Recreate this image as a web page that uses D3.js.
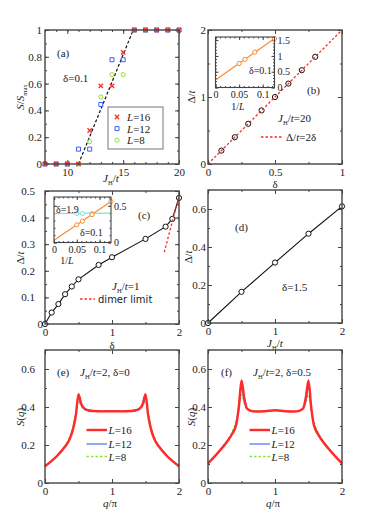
<!DOCTYPE html>
<html>
<head>
<meta charset="utf-8">
<script src="https://cdn.jsdelivr.net/npm/d3@7"></script>
<style>
  body { margin: 0; background: #fff; }
  svg { display: block; }
  text { font-family: "Liberation Serif", "Times New Roman", Times, serif; fill: #222; }
</style>
</head>
<body>
<svg id="fig" width="372" height="526"></svg>
<script>
// ---- data ----
// (a) S/Smax vs J_H/t
var jhA = [8, 9, 10, 11, 12, 13, 14, 15, 16, 17, 18, 19, 20];
var sA16 = [0, 0, 0, 0, 0.25, 0.583, 0.583, 0.833, 1, 1, 1, 1, 1];
var sA12 = [0, 0, 0, 0.111, 0.111, 0.444, 0.778, 0.778, 1, 1, 1, 1, 1];
var sA8 = [0, 0, 0, 0, 0.167, 0.5, 0.667, 0.667, 1, 1, 1, 1, 1];
var fitAx = [11, 15.9];
var fitAy = [0, 1];

// (b) gap vs delta, J_H/t = 20
var deltaB = [0.1, 0.2, 0.3, 0.4, 0.5, 0.6, 0.7, 0.8];
var gapB = [0.2, 0.4, 0.6, 0.8, 1.0, 1.2, 1.4, 1.6];
var refBx = [0, 1];
var refBy = [0, 2];
var invLB = [0.05, 0.0625, 0.0833, 0.125];
var gapInB = [0.76, 0.89, 1.12, 1.55];
var fitBx = [0, 0.125];
var fitBy = [0.24, 1.55];

// (c) gap vs delta, J_H/t = 1
var deltaC = [0, 0.1, 0.2, 0.3, 0.4, 0.5, 0.8, 1.0, 1.5, 1.8, 1.9, 2.0];
var gapC = [0, 0.043, 0.075, 0.112, 0.141, 0.168, 0.222, 0.251, 0.32, 0.366, 0.395, 0.474];
var dimerX = [1.78, 2.0];
var dimerY = [0.27, 0.48];
var invLC = [0.05, 0.0625, 0.0833, 0.125];
var gapInC01 = [0.24, 0.29, 0.38, 0.56];
var fitC01x = [0, 0.125];
var fitC01y = [0.03, 0.56];
var invLC19 = [0.05, 0.0625, 0.0833];
var gapInC19 = [0.395, 0.395, 0.396];
var fitC19x = [0, 0.125];
var fitC19y = [0.395, 0.4];

// (d) gap vs J_H/t, delta = 1.5
var jhD = [0, 0.5, 1, 1.5, 2];
var gapD = [0, 0.164, 0.318, 0.47, 0.614];

// (e), (f) S(q)
var qGrid = [0, 0.1, 0.2, 0.3, 0.36, 0.42, 0.46, 0.5, 0.54, 0.58, 0.64, 0.72, 0.85, 1,
             1.15, 1.28, 1.36, 1.42, 1.46, 1.5, 1.54, 1.58, 1.64, 1.7, 1.8, 1.9, 2];
var sqE16 = [0.088, 0.116, 0.150, 0.192, 0.225, 0.285, 0.355, 0.468, 0.418, 0.394, 0.383, 0.379, 0.377, 0.378,
             0.377, 0.379, 0.383, 0.394, 0.418, 0.468, 0.355, 0.285, 0.225, 0.192, 0.150, 0.116, 0.088];
var sqE12 = [0.088, 0.116, 0.150, 0.193, 0.228, 0.290, 0.360, 0.445, 0.410, 0.390, 0.382, 0.379, 0.377, 0.378,
             0.377, 0.379, 0.382, 0.390, 0.410, 0.445, 0.360, 0.290, 0.228, 0.193, 0.150, 0.116, 0.088];
var sqE8 = [0.088, 0.117, 0.152, 0.196, 0.235, 0.300, 0.370, 0.430, 0.405, 0.390, 0.381, 0.379, 0.377, 0.378,
            0.377, 0.379, 0.381, 0.390, 0.405, 0.430, 0.370, 0.300, 0.235, 0.196, 0.152, 0.117, 0.088];
var sqF16 = [0.103, 0.140, 0.180, 0.225, 0.258, 0.305, 0.400, 0.540, 0.450, 0.392, 0.380, 0.376, 0.378, 0.383,
             0.378, 0.376, 0.380, 0.392, 0.450, 0.540, 0.400, 0.305, 0.258, 0.225, 0.180, 0.140, 0.103];
var sqF12 = [0.103, 0.140, 0.181, 0.227, 0.262, 0.312, 0.385, 0.500, 0.430, 0.393, 0.380, 0.376, 0.378, 0.383,
             0.378, 0.376, 0.380, 0.393, 0.430, 0.500, 0.385, 0.312, 0.262, 0.227, 0.181, 0.140, 0.103];
var sqF8 = [0.104, 0.141, 0.183, 0.230, 0.268, 0.325, 0.390, 0.465, 0.420, 0.395, 0.381, 0.377, 0.378, 0.382,
            0.378, 0.377, 0.381, 0.395, 0.420, 0.465, 0.390, 0.325, 0.268, 0.230, 0.183, 0.141, 0.104];

var RED = "#ff2a2a", BLUE = "#3a5cff", GREEN = "#8ee03a", ORANGE = "#ff8a2e", CYAN = "#72e6cf";
var SERIF = "'Liberation Serif', 'Times New Roman', Times, serif";

var svg = d3.select("#fig");
svg.append("rect").attr("width", 372).attr("height", 526).attr("fill", "#fff");

function zip(xs, ys) {
    return xs.map(function (v, i) { return [v, ys[i]]; });
}

// text with italic / subscript pieces
function rich(g, x, y, parts, fs, opts) {
    opts = opts || {};
    var t = g.append("text").attr("x", x).attr("y", y).attr("font-size", fs);
    if (opts.anchor) t.attr("text-anchor", opts.anchor);
    if (opts.rotate) t.attr("transform", "rotate(-90," + x + "," + y + ")");
    if (opts.family) t.style("font-family", opts.family);
    var shifted = 0;
    parts.forEach(function (p) {
        var ts = t.append("tspan").text(p[0]);
        var dy = 0;
        if (p[1] === "sub") {
            ts.attr("font-size", fs * 0.6);
            dy = fs * 0.25 - shifted;
            shifted = fs * 0.25;
        } else {
            dy = -shifted;
            shifted = 0;
        }
        if (dy) ts.attr("dy", dy);
        if (p[1] === "i") ts.style("font-style", "italic");
    });
    return t;
}

function panel(box, xd, yd, ax) {
    var x = d3.scaleLinear().domain(xd).range([box.x0, box.x1]);
    var y = d3.scaleLinear().domain(yd).range([box.y1, box.y0]);
    var g = svg.append("g");
    if (ax.inset) {
        g.append("rect").attr("x", box.x0).attr("y", box.y0)
            .attr("width", box.x1 - box.x0).attr("height", box.y1 - box.y0).attr("fill", "#fff");
    }
    var L = ax.tl || 4;
    var fmt = function (d) { return String(d); };
    [[ax.xMin, ax.yMin, L / 2, false], [ax.xMaj, ax.yMaj, L, true]].forEach(function (s) {
        var lab = s[3];
        g.append("g").attr("transform", "translate(0," + box.y1 + ")")
            .call(d3.axisBottom(x).tickValues(s[0]).tickSize(-s[2]).tickPadding(ax.xpad).tickFormat(lab ? fmt : ""));
        g.append("g").attr("transform", "translate(0," + box.y0 + ")")
            .call(d3.axisTop(x).tickValues(s[0]).tickSize(-s[2]).tickFormat(""));
        g.append("g").attr("class", lab ? "yleft" : "").attr("transform", "translate(" + box.x0 + ",0)")
            .call(d3.axisLeft(y).tickValues(s[1]).tickSize(-s[2]).tickPadding(ax.ypad).tickFormat(lab && !ax.yRight ? fmt : ""));
        g.append("g").attr("transform", "translate(" + box.x1 + ",0)")
            .call(d3.axisRight(y).tickValues(s[1]).tickSize(-s[2]).tickPadding(ax.ypad).tickFormat(lab && ax.yRight ? fmt : ""));
    });
    g.selectAll(".domain").remove();
    g.selectAll(".tick line").attr("stroke", "#444").attr("stroke-width", 1);
    g.selectAll(".tick text").style("font-family", SERIF).attr("font-size", ax.fs).attr("fill", "#222");
    if (ax.zeroPad !== undefined) {
        g.select(".yleft").selectAll(".tick text").filter(function (d) { return d === 0; })
            .attr("x", -ax.zeroPad);
    }
    var data = g.append("g");
    g.append("rect").attr("x", box.x0).attr("y", box.y0)
        .attr("width", box.x1 - box.x0).attr("height", box.y1 - box.y0)
        .attr("fill", "none").attr("stroke", "#444").attr("stroke-width", ax.inset ? 1.1 : 1.4);
    return { g: g, data: data, x: x, y: y };
}

function line(p, pts, color, width, dash, curve) {
    var gen = d3.line().x(function (d) { return p.x(d[0]); }).y(function (d) { return p.y(d[1]); })
        .curve(curve || d3.curveLinear);
    var path = p.data.append("path").attr("d", gen(pts)).attr("fill", "none")
        .attr("stroke", color).attr("stroke-width", width);
    if (dash) path.attr("stroke-dasharray", dash);
    return path;
}

function circles(p, pts, color, r, fill) {
    p.data.selectAll(null).data(pts).enter().append("circle")
        .attr("cx", function (d) { return p.x(d[0]); })
        .attr("cy", function (d) { return p.y(d[1]); })
        .attr("r", r).attr("fill", fill || "none").attr("stroke", color).attr("stroke-width", 1);
}

function symbols(p, pts, type, size, color, sw) {
    p.data.selectAll(null).data(pts).enter().append("path")
        .attr("transform", function (d) { return "translate(" + p.x(d[0]) + "," + p.y(d[1]) + ")"; })
        .attr("d", d3.symbol().type(type).size(size)())
        .attr("fill", "none").attr("stroke", color).attr("stroke-width", sw);
}

var FS = 11;
var JH = [["J", "i"], ["H", "sub"], ["/"], ["t", "i"]];
var DT = [["\u0394/"], ["t", "i"]];

// ---------- (a) ----------
var pa = panel({ x0: 45, x1: 179, y0: 30, y1: 164 }, [8, 20], [0, 1], {
    xMaj: [10, 15, 20], xMin: d3.range(8, 21, 1), yMaj: [0, 0.2, 0.4, 0.6, 0.8, 1], yMin: d3.range(0, 1.01, 0.1),
    xpad: 4, ypad: 3, fs: FS
});
line(pa, zip(fitAx, fitAy), "#111", 1.2, "3,2");
symbols(pa, zip(jhA, sA8), d3.symbolCircle, 13, GREEN, 1);
symbols(pa, zip(jhA, sA12), d3.symbolSquare, 16, BLUE, 1);
symbols(pa, zip(jhA, sA16), d3.symbolX, 14, RED, 1.3);
pa.g.append("rect").attr("x", 108).attr("y", 107).attr("width", 55).attr("height", 42)
    .attr("fill", "#fff").attr("stroke", "#777").attr("stroke-width", 1);
[["16", RED, d3.symbolX, 14, 1.3], ["12", BLUE, d3.symbolSquare, 16, 1], ["8", GREEN, d3.symbolCircle, 13, 1]]
    .forEach(function (e, i) {
        var yy = 117 + i * 11.6;
        pa.g.append("path").attr("transform", "translate(117," + yy + ")")
            .attr("d", d3.symbol().type(e[2]).size(e[3])()).attr("fill", "none").attr("stroke", e[1]).attr("stroke-width", e[4]);
        rich(pa.g, 127, yy + 4, [["L", "i"], ["=" + e[0]]], FS);
    });
rich(pa.g, 57, 57, [["(a)"]], FS);
rich(pa.g, 63, 82, [["\u03b4=0.1"]], FS);
rich(svg, 24, 97, [["S", "i"], ["/"], ["S", "i"], ["max", "sub"]], FS, { anchor: "middle", rotate: true });
rich(svg, 111, 182, JH, FS, { anchor: "middle" });

// ---------- (b) ----------
var pb = panel({ x0: 208, x1: 342, y0: 30, y1: 164 }, [0, 1], [0, 2], {
    xMaj: [0, 0.5, 1], xMin: [0, 0.25, 0.5, 0.75, 1], yMaj: [0, 1, 2], yMin: [0, 0.5, 1, 1.5, 2],
    xpad: 4, ypad: 2, fs: FS
});
circles(pb, zip(deltaB, gapB), "#111", 2.6);
line(pb, zip(refBx, refBy), RED, 1.3, "2.5,2");
rich(pb.g, 307, 94, [["(b)"]], FS);
rich(pb.g, 278, 122, JH.concat([["=20"]]), FS);
pb.g.append("line").attr("x1", 261).attr("x2", 282).attr("y1", 137).attr("y2", 137)
    .attr("stroke", RED).attr("stroke-width", 1.3).attr("stroke-dasharray", "2.5,2");
rich(pb.g, 286, 141, DT.concat([["=2\u03b4"]]), FS);
rich(svg, 195, 97, DT, FS, { anchor: "middle", rotate: true });
rich(svg, 275, 187.5, [["\u03b4"]], FS, { anchor: "middle" });

var pbi = panel({ x0: 215.5, x1: 274.5, y0: 37, y1: 87.5 }, [0, 0.125], [0, 1.6], {
    inset: true, xMaj: [0, 0.05, 0.1], xMin: d3.range(0, 0.126, 0.01), yMaj: [0, 0.5, 1, 1.5], yMin: d3.range(0, 1.61, 0.1),
    xpad: 3, ypad: 3, fs: 10, tl: 3, yRight: true
});
line(pbi, zip(fitBx, fitBy), ORANGE, 1.2);
circles(pbi, zip(invLB, gapInB), ORANGE, 2.1, "#fff");
rich(pbi.g, 249, 74, [["\u03b4=0.1"]], 10);
rich(svg, 238, 110, [["1/"], ["L", "i"]], 10, { anchor: "middle" });

// ---------- (c) ----------
var pc = panel({ x0: 45, x1: 179, y0: 191, y1: 324 }, [0, 2], [0, 0.5], {
    xMaj: [0, 1, 2], xMin: [0, 0.5, 1, 1.5, 2], yMaj: [0, 0.1, 0.2, 0.3, 0.4, 0.5], yMin: d3.range(0, 0.51, 0.05),
    xpad: 4, ypad: 10, fs: FS, zeroPad: 2
});
line(pc, zip(deltaC, gapC), "#111", 1.1);
circles(pc, zip(deltaC, gapC), "#111", 2.6, "#fff");
line(pc, zip(dimerX, dimerY), RED, 1.3, "2.5,2");
rich(pc.g, 138, 219, [["(c)"]], FS);
rich(pc.g, 112, 290, JH.concat([["=1"]]), FS);
pc.g.append("line").attr("x1", 80).attr("x2", 95).attr("y1", 299).attr("y2", 299)
    .attr("stroke", RED).attr("stroke-width", 1.3).attr("stroke-dasharray", "2.5,2");
rich(pc.g, 98, 302.5, [["dimer limit"]], 10, { family: "DejaVu Sans" });
rich(svg, 24, 258, DT, FS, { anchor: "middle", rotate: true });
rich(svg, 112, 348.5, [["\u03b4"]], FS, { anchor: "middle" });

var pci = panel({ x0: 54, x1: 111, y0: 197, y1: 242.5 }, [0, 0.125], [0, 0.62], {
    inset: true, xMaj: [0, 0.05, 0.1], xMin: d3.range(0, 0.126, 0.01), yMaj: [0, 0.5], yMin: d3.range(0, 0.61, 0.1),
    xpad: 3, ypad: 3, fs: 10, tl: 3, yRight: true
});
line(pci, zip(fitC19x, fitC19y), CYAN, 1.2);
circles(pci, zip(invLC19, gapInC19), CYAN, 2, "#fff");
line(pci, zip(fitC01x, fitC01y), ORANGE, 1.2);
circles(pci, zip(invLC, gapInC01), ORANGE, 2.1, "#fff");
rich(pci.g, 56, 212.5, [["\u03b4=1.9"]], 10);
rich(pci.g, 80, 236, [["\u03b4=0.1"]], 10);
rich(svg, 67, 264, [["1/"], ["L", "i"]], 10, { anchor: "middle" });

// ---------- (d) ----------
var pd = panel({ x0: 208, x1: 342, y0: 190, y1: 323 }, [0, 2], [0, 0.7], {
    xMaj: [0, 1, 2], xMin: [0, 0.5, 1, 1.5, 2], yMaj: [0, 0.2, 0.4, 0.6], yMin: d3.range(0, 0.71, 0.1),
    xpad: 4, ypad: 2, fs: FS
});
line(pd, zip(jhD, gapD), "#111", 1.1);
circles(pd, zip(jhD, gapD), "#111", 2.6, "#fff");
rich(pd.g, 235, 230.5, [["(d)"]], FS);
rich(pd.g, 282, 291, [["\u03b4=1.5"]], FS);
rich(svg, 192, 257, DT, FS, { anchor: "middle", rotate: true });
rich(svg, 275, 347, JH, FS, { anchor: "middle" });

// ---------- (e), (f) ----------
function sqPanel(box, s16, s12, s8, label, title, tx, lx) {
    var p = panel(box, [0, 2], [0, 0.7], {
        xMaj: [0, 1, 2], xMin: [0, 0.5, 1, 1.5, 2], yMaj: [0, 0.2, 0.4, 0.6], yMin: d3.range(0, 0.71, 0.1),
        xpad: 4.5, ypad: box.x0 < 100 ? 10 : 2, fs: FS, zeroPad: 2
    });
    line(p, zip(qGrid, s8), GREEN, 1.4, "2.5,2", d3.curveMonotoneX);
    line(p, zip(qGrid, s12), BLUE, 1.1, null, d3.curveMonotoneX);
    line(p, zip(qGrid, s16), RED, 2.4, null, d3.curveMonotoneX);
    rich(p.g, tx[0], 376, [[label]], FS);
    rich(p.g, tx[1], 376, JH.concat([["=2, \u03b4=" + title]]), FS);
    [["16", RED, 2.4, null], ["12", BLUE, 1.1, null], ["8", GREEN, 1.4, "2.5,2"]].forEach(function (e, i) {
        var yy = [430, 444, 456.5][i];
        var l = p.g.append("line").attr("x1", lx).attr("x2", lx + 20.5).attr("y1", yy).attr("y2", yy)
            .attr("stroke", e[1]).attr("stroke-width", e[2]);
        if (e[3]) l.attr("stroke-dasharray", e[3]);
        rich(p.g, lx + 22, yy + 4, [["L", "i"], ["=" + e[0]]], FS);
    });
    var cx = (box.x0 + box.x1) / 2;
    rich(svg, cx - 2, 507, [["q", "i"], ["/\u03c0"]], FS, { anchor: "middle" });
    rich(svg, box.x0 < 100 ? 24 : 195, 417, [["S", "i"], ["("], ["q", "i"], [")"]], FS, { anchor: "middle", rotate: true });
    return p;
}
sqPanel({ x0: 45, x1: 179, y0: 350, y1: 483 }, sqE16, sqE12, sqE8, "(e)", "0", [57, 80], 86.5);
sqPanel({ x0: 208, x1: 342, y0: 350, y1: 483 }, sqF16, sqF12, sqF8, "(f)", "0.5", [221, 253], 249.5);
</script>
</body>
</html>
